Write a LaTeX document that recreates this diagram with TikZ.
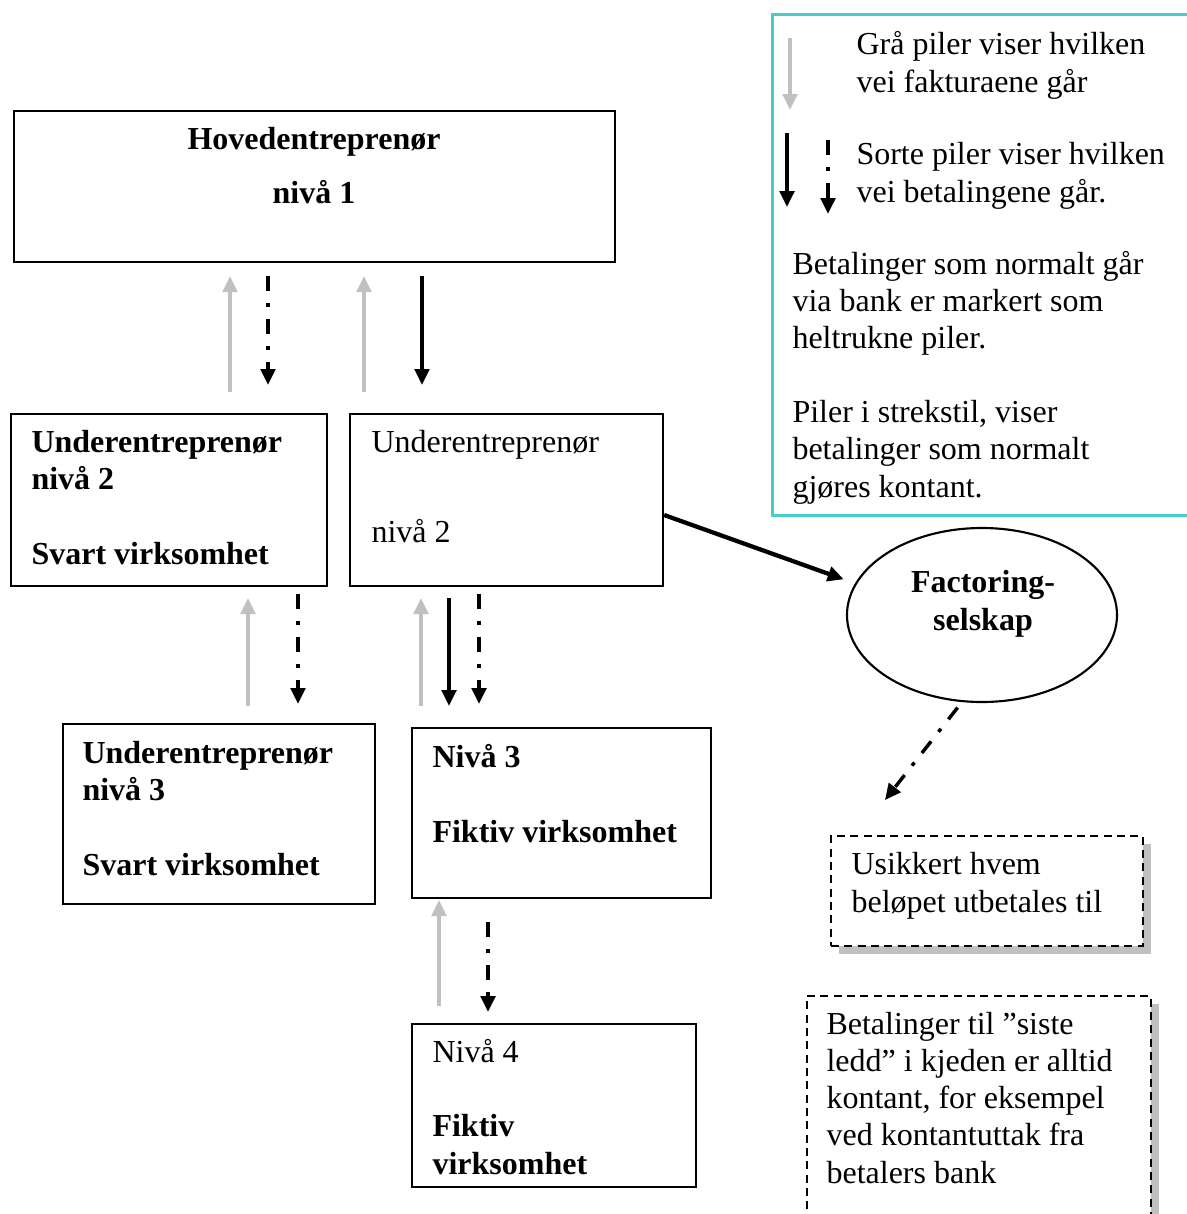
\documentclass[tikz,border=0pt]{standalone}
\usepackage{fontspec}
\setmainfont{Liberation Serif}
\usetikzlibrary{arrows.meta, positioning, calc, shapes.geometric, shadows}
\definecolor{legendcyan}{RGB}{75,204,204}
\definecolor{invoicegray}{RGB}{192,192,192}
\newcommand{\pxu}{0.375pt}

\begin{document}
\begin{tikzpicture}[
		x=0.375pt, y={(0,-0.375pt)},
		box/.style={rectangle, draw, line width=0.8pt, anchor=north west, inner sep=0pt},
		ell/.style={ellipse, draw, line width=0.8pt, inner sep=0pt},
		note/.style={rectangle, draw, dash pattern=on 3pt off 2pt, line width=0.8pt, fill=white, anchor=north west, inner sep=0pt,
			general shadow={fill=invoicegray, shadow xshift=2.8pt, shadow yshift=-2.8pt}},
		txt/.style={font=\fontsize{12}{13.9}\selectfont, inner sep=0pt, align=left, anchor=base west},
		btxt/.style={txt, font=\fontsize{12}{13.9}\selectfont\bfseries},
		faktura/.style={draw=invoicegray, line width=1.3pt, -{Triangle[width=5.5pt,length=6pt]}},
		bank/.style={line width=1.3pt, -{Triangle[width=5.5pt,length=6pt]}},
		kontant/.style={bank, dash pattern=on 5.6pt off 4.5pt on 1.5pt off 4.5pt}
		]
		\useasboundingbox (0,0) rectangle (1186,1214);
		
		% Main boxes
		\node[box, minimum width=601*\pxu, minimum height=151*\pxu] (hoved) at (13,110) {};
		\node[box, minimum width=316*\pxu, minimum height=172*\pxu] (ue2a) at (10,413) {};
		\node[box, minimum width=313*\pxu, minimum height=172*\pxu] (ue2b) at (349,413) {};
		\node[box, minimum width=312*\pxu, minimum height=180*\pxu] (ue3) at (62,723) {};
		\node[box, minimum width=299*\pxu, minimum height=170*\pxu] (niva3) at (411,727) {};
		\node[box, minimum width=284*\pxu, minimum height=163*\pxu] (niva4) at (411,1023) {};
		\node[ell, minimum width=270*\pxu, minimum height=174*\pxu] (factoring) at (982,615) {};
		
		% Texts in the boxes (placed at the baseline of the last line)
		\node[btxt, align=center, anchor=base] (hovedtxt) at (314,203) {Hovedentreprenør\\[6pt]nivå 1};
		\node[btxt] (ue2atxt) at (31,564) {Underentreprenør\\nivå 2\\[\baselineskip]Svart virksomhet};
		\node[txt] (ue2btxt) at (371,542) {Underentreprenør\\[19.5pt]nivå 2};
		\node[btxt] (ue3txt) at (82,875) {Underentreprenør\\nivå 3\\[\baselineskip]Svart virksomhet};
		\node[btxt] (niva3txt) at (432,842) {Nivå 3\\[\baselineskip]Fiktiv virksomhet};
		\node[txt] (niva4txt) at (432,1174) {Nivå 4\\[\baselineskip]\textbf{Fiktiv}\\\textbf{virksomhet}};
		\node[btxt, align=center, anchor=base] (factoringtxt) at (983,630) {Factoring-\\selskap};
		
		% Legend
		\node[box, draw=legendcyan, line width=1.1pt, minimum width=425*\pxu, minimum height=501*\pxu] (legend) at (771,13) {};
		\node[txt] (fakturatxt) at (856,92) {Grå piler viser hvilken\\vei fakturaene går};
		\node[txt] (betalingtxt) at (856,202) {Sorte piler viser hvilken\\vei betalingene går.};
		\node[txt] (piltxt) at (792,497) {Betalinger som normalt går\\via bank er markert som\\heltrukne piler.\\[\baselineskip]Piler i strekstil, viser\\betalinger som normalt\\gjøres kontant.};
		\draw[faktura] ($(legend.north west)+(19,25)$) -- ($(legend.north west)+(19,97)$);
		\draw[bank] ($(legend.north west)+(16,120)$) -- ($(legend.north west)+(16,194)$);
		\draw[kontant] ($(legend.north west)+(57,127)$) -- ($(legend.north west)+(57,201)$);
		
		% Notes with shadow
		\node[note, minimum width=312*\pxu, minimum height=110*\pxu] (note1) at (830,835) {};
		\node[txt] (note1txt) at (851,912) {Usikkert hvem\\beløpet utbetales til};
		\node[note, minimum width=344*\pxu, minimum height=240*\pxu] (note2) at (806,995) {};
		\node[txt] (note2txt) at (826,1183) {Betalinger til ”siste\\ledd” i kjeden er alltid\\kontant, for eksempel\\ved kontantuttak fra\\betalers bank};
		
		% Arrows between nivå 1 and nivå 2
		\draw[faktura] ($(ue2a.north west)+(220,-21)$) -- ($(hoved.south west)+(217,13)$);
		\draw[kontant] ($(hoved.south west)+(255,13)$) -- ($(ue2a.north west)+(258,-28)$);
		\draw[faktura] ($(ue2b.north west)+(15,-21)$) -- ($(hoved.south west)+(351,13)$);
		\draw[bank] ($(hoved.south west)+(409,13)$) -- ($(ue2b.north west)+(73,-28)$);
		
		% Arrows between nivå 2 and nivå 3
		\draw[faktura] ($(ue3.north west)+(186,-17)$) -- ($(ue2a.south west)+(238,11)$);
		\draw[kontant] ($(ue2a.south west)+(288,7)$) -- ($(ue3.north west)+(236,-19)$);
		\draw[faktura] ($(niva3.north west)+(10,-21)$) -- ($(ue2b.south west)+(72,11)$);
		\draw[bank] ($(ue2b.south west)+(100,11)$) -- ($(niva3.north west)+(38,-21)$);
		\draw[kontant] ($(ue2b.south west)+(130,7)$) -- ($(niva3.north west)+(68,-23)$);
		
		% Arrows between nivå 3 and nivå 4
		\draw[faktura] ($(niva4.north west)+(28,-17)$) -- ($(niva3.south west)+(28,1)$);
		\draw[kontant] ($(niva3.south west)+(77,23)$) -- ($(niva4.north west)+(77,-11)$);
		
		% Factoring
		\draw[bank, line width=1.6pt, shorten >=4.5pt] ($(ue2b.north east)+(0,102)$) -- (factoring.166);
		\draw[kontant, shorten <=2.6pt] (factoring.257) -- ($(note1.north west)+(55,-35)$);
		
	\end{tikzpicture}
\end{document}
